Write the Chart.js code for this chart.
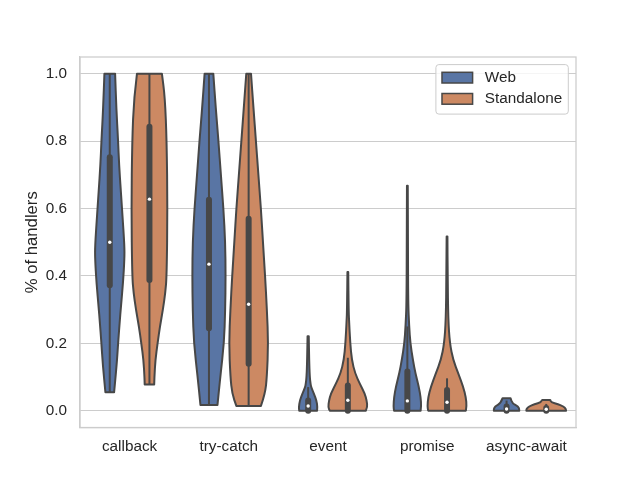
<!DOCTYPE html>
<html>
<head>
<meta charset="utf-8">
<script src="https://cdn.jsdelivr.net/npm/chart.js@4.4.1/dist/chart.umd.min.js"></script>
<style>
  body { margin: 0; background: #ffffff; }
  canvas { display: block; }
</style>
</head>
<body>
<canvas id="grafico" width="640" height="480"></canvas>
<script>
// Categorias y series
const categories = ['callback', 'try-catch', 'event', 'promise', 'async-await'];
const seriesNames = ['Web', 'Standalone'];
const yTicks = [0, 0.2, 0.4, 0.6, 0.8, 1.0];

// Cuartiles, mediana y bigotes
const webQ1 = [0.372, 0.245, 0.0, 0.0, 0.0];
const webMedian = [0.50, 0.435, 0.014, 0.029, 0.005];
const webQ3 = [0.752, 0.626, 0.03, 0.116, 0.012];
const webLow = [0.055, 0.017, 0.0, 0.0, 0.0];
const webHigh = [1.0, 1.0, 0.07, 0.25, 0.03];

const standaloneQ1 = [0.388, 0.139, 0.0, 0.0, 0.0];
const standaloneMedian = [0.628, 0.316, 0.031, 0.025, 0.004];
const standaloneQ3 = [0.843, 0.570, 0.075, 0.061, 0.008];
const standaloneLow = [0.078, 0.014, 0.0, 0.0, 0.0];
const standaloneHigh = [1.0, 1.0, 0.157, 0.096, 0.02];

// Densidad relativa [valor, ancho] de cada violin
const callbackWeb = [[1.0, 0.27], [0.9, 0.33], [0.8, 0.42], [0.73, 0.47], [0.65, 0.56], [0.58, 0.64], [0.49, 0.74], [0.45, 0.74], [0.38, 0.67], [0.3, 0.55], [0.27, 0.51], [0.2, 0.42], [0.136, 0.35], [0.055, 0.22]];
const tryCatchWeb = [[1.0, 0.22], [0.9, 0.34], [0.8, 0.48], [0.7, 0.6], [0.6, 0.73], [0.5, 0.82], [0.4, 0.84], [0.3, 0.82], [0.2, 0.76], [0.1, 0.57], [0.017, 0.43]];
const eventWeb = [[0.221, 0.03], [0.15, 0.05], [0.1, 0.08], [0.08, 0.12], [0.07, 0.15], [0.05, 0.29], [0.03, 0.42], [0.01, 0.47], [0.0, 0.45]];
const promiseWeb = [[0.668, 0.02], [0.5, 0.03], [0.32, 0.04], [0.25, 0.09], [0.2, 0.15], [0.15, 0.28], [0.11, 0.41], [0.07, 0.58], [0.04, 0.67], [0.012, 0.7], [0.0, 0.67]];
const asyncWeb = [[0.037, 0.2], [0.022, 0.29], [0.012, 0.59], [0.005, 0.64], [0.0, 0.64]];

const callbackStandalone = [[1.0, 0.63], [0.93, 0.78], [0.8, 0.87], [0.6, 0.91], [0.4, 0.87], [0.35, 0.8], [0.3, 0.68], [0.25, 0.53], [0.2, 0.41], [0.15, 0.3], [0.1, 0.25], [0.078, 0.24]];
const tryCatchStandalone = [[1.0, 0.12], [0.9, 0.24], [0.8, 0.37], [0.7, 0.49], [0.6, 0.62], [0.5, 0.72], [0.4, 0.83], [0.3, 0.92], [0.2, 0.99], [0.1, 0.92], [0.05, 0.83], [0.014, 0.62]];
const eventStandalone = [[0.412, 0.02], [0.3, 0.04], [0.27, 0.06], [0.2, 0.12], [0.15, 0.2], [0.11, 0.37], [0.08, 0.6], [0.05, 0.86], [0.03, 0.95], [0.01, 0.99], [0.0, 0.91]];
const promiseStandalone = [[0.517, 0.02], [0.4, 0.03], [0.27, 0.06], [0.2, 0.14], [0.15, 0.31], [0.11, 0.57], [0.07, 0.82], [0.04, 0.95], [0.012, 0.99], [0.0, 0.95]];
const asyncStandalone = [[0.032, 0.2], [0.025, 0.25], [0.019, 0.6], [0.012, 0.87], [0.005, 1.0], [0.0, 1.0]];

const colores = ['#5975a4', '#cc8963'];
const gris = '#474747';

Chart.defaults.font.family = '"Liberation Sans", Arial, sans-serif';
Chart.defaults.color = '#262626';

// Traza una linea suave por los puntos (curvas cuadraticas por los puntos medios)
function trazoSuave(ctx, pts, primero) {
    if (primero) ctx.moveTo(pts[0][0], pts[0][1]); else ctx.lineTo(pts[0][0], pts[0][1]);
    for (let k = 1; k < pts.length - 1; k++) {
        const mx = (pts[k][0] + pts[k + 1][0]) / 2;
        const my = (pts[k][1] + pts[k + 1][1]) / 2;
        ctx.quadraticCurveTo(pts[k][0], pts[k][1], mx, my);
    }
    const ult = pts[pts.length - 1];
    ctx.lineTo(ult[0], ult[1]);
}

// Dibuja los violines usando las posiciones de las barras y la escala y
const violinPlugin = {
    id: 'violines',
    afterDatasetsDraw(chart) {
        const ctx = chart.ctx;
        const y = chart.scales.y;
        chart.data.datasets.forEach((ds, di) => {
            const meta = chart.getDatasetMeta(di);
            meta.data.forEach((bar, ci) => {
                const {x: cx, width} = bar.getProps(['x', 'width'], true);
                const half = width / 2;
                const perfil = ds.shapes[ci];
                const izq = perfil.map(([v, w]) => [cx - w * half, y.getPixelForValue(v)]);
                const der = perfil.map(([v, w]) => [cx + w * half, y.getPixelForValue(v)]).reverse();
                ctx.save();
                ctx.beginPath();
                trazoSuave(ctx, izq, true);
                trazoSuave(ctx, der, false);
                ctx.closePath();
                ctx.fillStyle = ds.violinColor;
                ctx.fill();
                ctx.lineWidth = 2;
                ctx.lineJoin = 'round';
                ctx.strokeStyle = gris;
                ctx.stroke();

                // bigote
                ctx.beginPath();
                ctx.moveTo(cx, y.getPixelForValue(ds.low[ci]));
                ctx.lineTo(cx, y.getPixelForValue(ds.high[ci]));
                ctx.lineWidth = 2;
                ctx.lineCap = 'butt';
                ctx.stroke();

                // caja
                ctx.beginPath();
                ctx.moveTo(cx, y.getPixelForValue(ds.q1[ci]));
                ctx.lineTo(cx, y.getPixelForValue(ds.q3[ci]));
                ctx.lineWidth = 6;
                ctx.lineCap = 'round';
                ctx.stroke();

                // mediana
                ctx.beginPath();
                ctx.arc(cx, y.getPixelForValue(ds.median[ci]), 1.7, 0, Math.PI * 2);
                ctx.fillStyle = '#ffffff';
                ctx.fill();
                ctx.restore();
            });
        });

        // marco completo del area
        const a = chart.chartArea;
        ctx.save();
        ctx.strokeStyle = '#cccccc';
        ctx.lineWidth = 1.25;
        ctx.strokeRect(a.left, a.top, a.right - a.left, a.bottom - a.top);
        ctx.restore();
    },
    afterDraw(chart) {
        // leyenda dentro del area (arriba a la derecha)
        const ctx = chart.ctx;
        const a = chart.chartArea;
        ctx.save();
        ctx.font = '15.3px "Liberation Sans", Arial, sans-serif';
        const anchoTexto = Math.max(...chart.data.datasets.map(d => ctx.measureText(d.label).width));
        const boxW = 6.1 + 30.6 + 12.2 + anchoTexto + 6.1;
        const boxH = 49.5;
        const lx = a.right - 7.7 - boxW;
        const ly = a.top + 7.6;
        ctx.beginPath();
        ctx.roundRect(lx, ly, boxW, boxH, 3);
        ctx.fillStyle = 'rgba(255,255,255,0.8)';
        ctx.fill();
        ctx.strokeStyle = '#cccccc';
        ctx.lineWidth = 1;
        ctx.stroke();
        chart.data.datasets.forEach((d, i) => {
            const cy = ly + 13 + i * 21.2;
            ctx.fillStyle = d.violinColor;
            ctx.fillRect(lx + 6.1, cy - 5.3, 30.6, 10.7);
            ctx.strokeStyle = gris;
            ctx.lineWidth = 1.5;
            ctx.strokeRect(lx + 6.1, cy - 5.3, 30.6, 10.7);
            ctx.fillStyle = '#262626';
            ctx.textAlign = 'left';
            ctx.textBaseline = 'middle';
            ctx.fillText(d.label, lx + 6.1 + 30.6 + 12.2, cy);
        });
        ctx.restore();
    }
};

const ctx = document.getElementById('grafico').getContext('2d');

new Chart(ctx, {
    type: 'bar',
    data: {
        labels: categories,
        datasets: [{
            label: seriesNames[0],
            data: webMedian,
            backgroundColor: 'rgba(0,0,0,0)',
            borderWidth: 0,
            violinColor: colores[0],
            shapes: [callbackWeb, tryCatchWeb, eventWeb, promiseWeb, asyncWeb],
            q1: webQ1, q3: webQ3, median: webMedian, low: webLow, high: webHigh
        }, {
            label: seriesNames[1],
            data: standaloneMedian,
            backgroundColor: 'rgba(0,0,0,0)',
            borderWidth: 0,
            violinColor: colores[1],
            shapes: [callbackStandalone, tryCatchStandalone, eventStandalone, promiseStandalone, asyncStandalone],
            q1: standaloneQ1, q3: standaloneQ3, median: standaloneMedian, low: standaloneLow, high: standaloneHigh
        }]
    },
    options: {
        responsive: false,
        animation: false,
        devicePixelRatio: 1,
        categoryPercentage: 0.8,
        barPercentage: 1.0,
        layout: { padding: { top: 57, right: 64, bottom: 0, left: 0 } },
        plugins: {
            legend: { display: false },
            tooltip: { enabled: false }
        },
        scales: {
            x: {
                afterFit: s => { s.height = 52.5; },
                grid: { display: false, drawTicks: false },
                border: { display: true, color: '#cccccc', width: 1.25 },
                ticks: { padding: 10, font: { size: 15.3 }, color: '#262626' }
            },
            y: {
                min: -0.05,
                max: 1.05,
                afterFit: s => { s.width = 80; },
                afterBuildTicks: s => { s.ticks = yTicks.map(v => ({ value: v })); },
                grid: { color: '#cccccc', lineWidth: 1, drawTicks: false },
                border: { display: true, color: '#cccccc', width: 1.25 },
                ticks: {
                    padding: 13,
                    font: { size: 15.3 },
                    color: '#262626',
                    callback: v => Number(v).toFixed(1)
                },
                title: {
                    display: true,
                    text: '% of handlers',
                    font: { size: 16.7 },
                    color: '#262626',
                    padding: { top: 22, bottom: 0 }
                }
            }
        }
    },
    plugins: [violinPlugin]
});
</script>
</body>
</html>
